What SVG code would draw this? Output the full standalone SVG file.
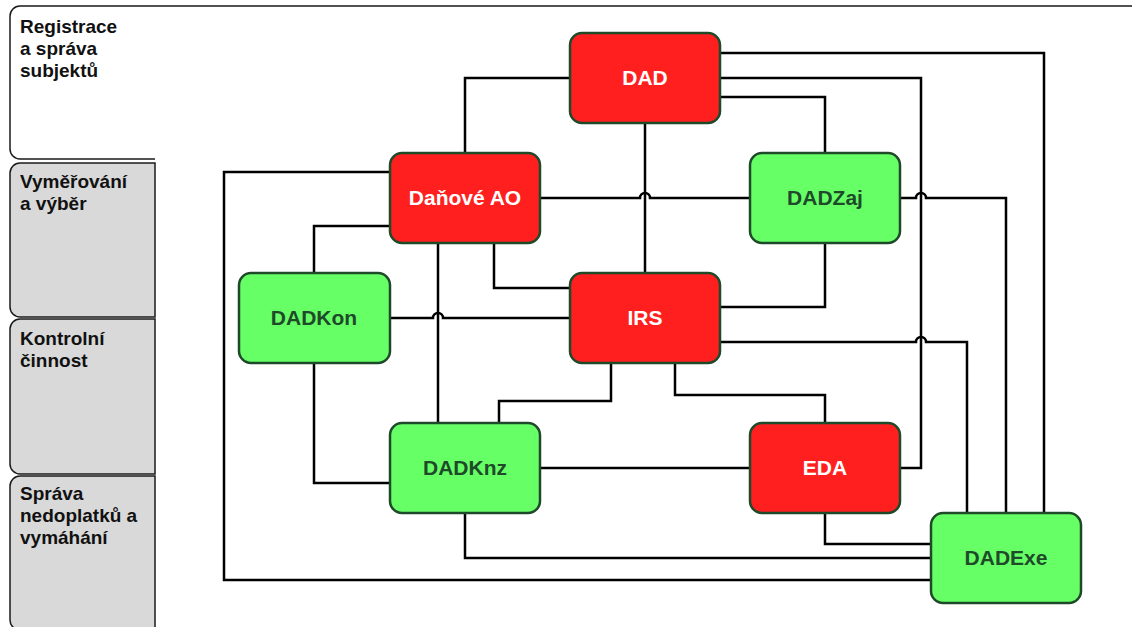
<svg xmlns="http://www.w3.org/2000/svg" width="1132" height="627" viewBox="0 0 1132 627">
  <style>
    .lane { fill: #d9d9d9; stroke: #1a1a1a; stroke-width: 1.5; }
    .pool { fill: #ffffff; stroke: #1a1a1a; stroke-width: 1.5; }
    .lane-text { font-family: "Liberation Sans", Arial, sans-serif; font-size: 19px; font-weight: bold; fill: #111111; }
    .node rect { stroke: #1e4a2a; stroke-width: 2.5; }
    .red rect { fill: #ff1f1f; }
    .green rect { fill: #66ff66; }
    .node text { font-family: "Liberation Sans", Arial, sans-serif; font-size: 21px; font-weight: bold; text-anchor: middle; }
    .red text { fill: #ffffff; }
    .green text { fill: #1e4a2a; }
    .conn path { fill: none; stroke: #000000; stroke-width: 2.5; stroke-linejoin: miter; }
  </style>

  <rect width="1132" height="627" fill="#ffffff"/>

  <!-- swimlanes -->
  <g id="lanes">
    <path class="pool" d="M1140,6 H20 A10,10 0 0 0 10,16 V149 A10,10 0 0 0 20,159 H155"/>
    <text class="lane-text" x="20" y="33">Registrace</text>
    <text class="lane-text" x="20" y="55">a správa</text>
    <text class="lane-text" x="20" y="77">subjektů</text>

    <path class="lane" d="M155,163 H20 A10,10 0 0 0 10,173 V307 A10,10 0 0 0 20,317 H155 Z"/>
    <text class="lane-text" x="20" y="188">Vyměřování</text>
    <text class="lane-text" x="20" y="210">a výběr</text>

    <path class="lane" d="M155,319 H20 A10,10 0 0 0 10,329 V464 A10,10 0 0 0 20,474 H155 Z"/>
    <text class="lane-text" x="20" y="345">Kontrolní</text>
    <text class="lane-text" x="20" y="367">činnost</text>

    <path class="lane" d="M155,476 H20 A10,10 0 0 0 10,486 V620 A10,10 0 0 0 20,630 H155 Z"/>
    <text class="lane-text" x="20" y="500">Správa</text>
    <text class="lane-text" x="20" y="522">nedoplatků a</text>
    <text class="lane-text" x="20" y="544">vymáhání</text>
  </g>

  <!-- connectors (line hops drawn as small arcs) -->
  <g id="connectors" class="conn">
    <path d="M570,78 H465 V153"/>
    <path d="M645,123 V273"/>
    <path d="M540,198 H640 a5,5 0 0 1 10,0 H750"/>
    <path d="M720,53 H1044 V513"/>
    <path d="M720,78 H921 V468 H900"/>
    <path d="M720,97 H825 V153"/>
    <path d="M900,198 H916 a5,5 0 0 1 10,0 H1006 V513"/>
    <path d="M825,243 V307 H720"/>
    <path d="M720,342 H916 a5,5 0 0 1 10,0 H967 V513"/>
    <path d="M390,172 H224 V580 H931"/>
    <path d="M390,226 H314 V273"/>
    <path d="M438,243 V423"/>
    <path d="M494,243 V288 H570"/>
    <path d="M390,318 H433 a5,5 0 0 1 10,0 H570"/>
    <path d="M314,363 V483 H390"/>
    <path d="M611,363 V401 H499 V423"/>
    <path d="M675,363 V395 H825 V423"/>
    <path d="M540,468 H750"/>
    <path d="M465,513 V558 H931"/>
    <path d="M825,513 V544 H931"/>
  </g>

  <!-- nodes -->
  <g id="node-dad" class="node red">
    <rect x="570" y="33" width="150" height="90" rx="12"/>
    <text x="645" y="85">DAD</text>
  </g>
  <g id="node-danove-ao" class="node red">
    <rect x="390" y="153" width="150" height="90" rx="12"/>
    <text x="465" y="205">Daňové AO</text>
  </g>
  <g id="node-dadzaj" class="node green">
    <rect x="750" y="153" width="150" height="90" rx="12"/>
    <text x="825" y="205">DADZaj</text>
  </g>
  <g id="node-dadkon" class="node green">
    <rect x="239" y="273" width="151" height="90" rx="12"/>
    <text x="314" y="325">DADKon</text>
  </g>
  <g id="node-irs" class="node red">
    <rect x="570" y="273" width="150" height="90" rx="12"/>
    <text x="645" y="325">IRS</text>
  </g>
  <g id="node-dadknz" class="node green">
    <rect x="390" y="423" width="150" height="90" rx="12"/>
    <text x="465" y="475">DADKnz</text>
  </g>
  <g id="node-eda" class="node red">
    <rect x="750" y="423" width="150" height="90" rx="12"/>
    <text x="825" y="475">EDA</text>
  </g>
  <g id="node-dadexe" class="node green">
    <rect x="931" y="513" width="150" height="90" rx="12"/>
    <text x="1006" y="565">DADExe</text>
  </g>
</svg>
